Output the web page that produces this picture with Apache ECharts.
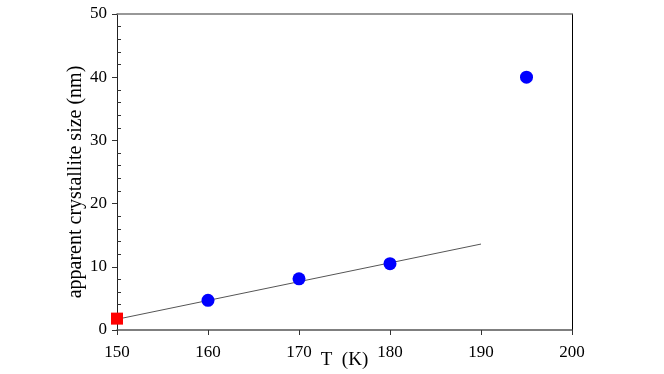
<!DOCTYPE html>
<html>
<head>
<meta charset="utf-8">
<script src="https://cdn.jsdelivr.net/npm/echarts@6/dist/echarts.min.js"></script>
<style>
  html, body { margin: 0; padding: 0; background: #fff; }
  #chart { width: 664px; height: 374px; }
</style>
</head>
<body>
<div id="chart"></div>
<script>
// measured points (blue), the T=150 point (red) and the straight fit
const tempsK = [160, 170, 180, 195];
const sizesNm = [4.7, 8.1, 10.5, 40.0];
const redT = [150];
const redSize = [1.8];
const fitT = [150, 190];
const fitSize = [1.7, 13.6];
const xTicks = [150, 160, 170, 180, 190, 200];
const yTicks = [0, 10, 20, 30, 40, 50];

const serif = "'Liberation Serif', 'Times New Roman', serif";
const zip = (xs, ys) => xs.map((x, i) => [x, ys[i]]);
const yMin = yTicks[0];
const yMax = yTicks[yTicks.length - 1];

const chart = echarts.init(document.getElementById("chart"));

chart.setOption({
	animation: false,
	grid: {
		left: 117,
		right: 92,
		top: 14,
		bottom: 44,
		containLabel: false,
		outerBoundsMode: "none",
	},
	xAxis: [
		{
			type: "value",
			min: xTicks[0],
			max: xTicks[xTicks.length - 1],
			interval: 10,
			name: "T  (K)",
			nameLocation: "middle",
			nameGap: 21,
			nameMoveOverlap: false,
			nameTextStyle: { fontFamily: serif, fontSize: 19, color: "#000" },
			axisLine: { lineStyle: { color: "#555", width: 1.5 } },
			axisTick: { length: 5, lineStyle: { color: "#333" } },
			axisLabel: { fontFamily: serif, fontSize: 17, color: "#000", margin: 14 },
			splitLine: { show: false },
		},
		{
			type: "value",
			position: "top",
			min: xTicks[0],
			max: xTicks[xTicks.length - 1],
			axisLine: { show: true, onZero: false, lineStyle: { color: "#777", width: 1.5 } },
			axisTick: { show: false },
			axisLabel: { show: false },
			splitLine: { show: false },
		},
	],
	yAxis: [
		{
			type: "value",
			min: yMin,
			max: yMax,
			interval: 10,
			name: "apparent crystallite size (nm)",
			nameLocation: "middle",
			nameGap: 31,
			nameMoveOverlap: false,
			nameTextStyle: { fontFamily: serif, fontSize: 20, color: "#000", padding: [0, 20, 0, 0] },
			axisLine: { show: true, lineStyle: { color: "#222", width: 1 } },
			axisTick: { length: 5, lineStyle: { color: "#333" } },
			axisLabel: { fontFamily: serif, fontSize: 17, color: "#000", margin: 10 },
			splitLine: { show: false },
		},
		{
			type: "value",
			position: "right",
			min: yMin,
			max: yMax,
			axisLine: { show: true, onZero: false, lineStyle: { color: "#000", width: 1 } },
			axisTick: { show: false },
			axisLabel: { show: false },
			splitLine: { show: false },
		},
		{
			// minor ticks only, pointing into the plot
			type: "value",
			position: "left",
			min: yMin,
			max: yMax,
			interval: 10,
			axisLine: { show: false },
			axisTick: { show: false, inside: true },
			minorTick: { show: true, splitNumber: 5, length: 4, lineStyle: { color: "#333" } },
			axisLabel: { show: false },
			splitLine: { show: false },
		},
	],
	series: [
		{
			name: "fit",
			type: "line",
			data: zip(fitT, fitSize),
			showSymbol: false,
			lineStyle: { color: "#555", width: 1 },
			z: 1,
		},
		{
			name: "measured",
			type: "scatter",
			data: zip(tempsK, sizesNm),
			symbol: "circle",
			symbolSize: 13,
			itemStyle: { color: "#0000ff", opacity: 1 },
			clip: false,
			z: 3,
		},
		{
			name: "150 K",
			type: "scatter",
			data: zip(redT, redSize),
			symbol: "rect",
			symbolSize: 12,
			itemStyle: { color: "#ff0000", opacity: 1 },
			clip: false,
			z: 3,
		},
	],
});
</script>
</body>
</html>
